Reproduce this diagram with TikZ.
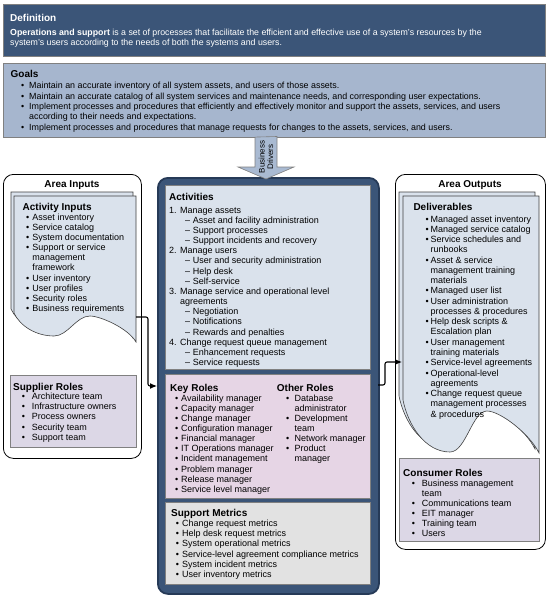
\documentclass[tikz,border=0pt]{standalone}
\usepackage{fontspec}
\setmainfont{Liberation Sans}
\usetikzlibrary{arrows.meta}
\definecolor{defblue}{HTML}{3B5578}
\definecolor{navyedge}{HTML}{263A57}
\definecolor{goalblue}{HTML}{A6B6CE}
\definecolor{arrowblue}{HTML}{A9BAD2}
\definecolor{docblue}{HTML}{DAE2EC}
\definecolor{rolelav}{HTML}{DCD7E6}
\definecolor{keypink}{HTML}{E6D5E5}
\definecolor{metgray}{HTML}{E2E2E2}
\definecolor{boxedge}{HTML}{808080}
\newcommand{\itemdot}{\textbullet}

\begin{document}
\begin{tikzpicture}[x=1pt,y=-1pt]
                \tikzstyle{every node}+=[inner sep=0pt]
                \tikzstyle{panel}=[draw=boxedge, line width=0.6pt, anchor=north west]
                \tikzstyle{area}=[draw=black, line width=0.8pt, rounded corners=10pt, fill=white, anchor=north west]
                \tikzstyle{body}=[anchor=base west, font=\fontsize{9}{10.2}\selectfont]
                \tikzstyle{head}=[anchor=base west, font=\fontsize{10}{12}\selectfont\bfseries]
                \tikzstyle{sheet}=[draw=black!75, line width=0.6pt, fill=docblue]
                \tikzstyle{conn}=[draw=black, line width=1.1pt, rounded corners=2pt, -{Latex[length=7pt,width=6pt]}]
                \useasboundingbox (0,0) rectangle (548,599);
                % definition and goals
                \node (defbox) [panel, fill=defblue, minimum width=542pt, minimum height=52pt] at (3,4) {};
                \node (deftitle) [head, text=white] at (10,22) {Definition};
                \node (deftext) [body, text=white, font=\fontsize{8.8}{10.5}\selectfont] at (10,35.5) {\begin{tabular}[t]{@{}l@{}}
                  \textbf{Operations and support} is a set of processes that facilitate the efficient and effective use of a system's resources by the\\
                  system's users according to the needs of both the systems and users.\end{tabular}};
                \node (goalbox) [panel, fill=goalblue, minimum width=542pt, minimum height=73pt] at (3,63.5) {};
                \node (goaltitle) [head] at (10.5,78) {Goals};
                \node (goallist) [body, font=\fontsize{8.9}{10.4}\selectfont] at (21,88.8) {\begin{tabular}[t]{@{}p{8pt}@{}l@{}}
                  \itemdot & Maintain an accurate inventory of all system assets, and users of those assets.\\
                  \itemdot & Maintain an accurate catalog of all system services and maintenance needs, and corresponding user expectations.\\
                  \itemdot & Implement processes and procedures that efficiently and effectively monitor and support the assets, services, and users\\
                           & according to their needs and expectations.\\
                  \itemdot & Implement processes and procedures that manage requests for changes to the assets, services, and users.\end{tabular}};
                % area inputs
                \node (inarea) [area, minimum width=138pt, minimum height=284pt] at (3,174) {};
                \node (intitle) [head, anchor=base] at (72,187.5) {Area Inputs};
                \foreach \sx/\sy in {-3/-4, 0/0}
                  \draw [sheet, shift={(\sx,\sy)}] (14,196) -- (136,196) -- (136,342)
                    .. controls (128,328) and (100,316) .. (90,316)
                    .. controls (76,316) and (68,336) .. (54,336)
                    .. controls (36,336) and (20,326) .. (14,313) -- cycle;
                \node (actintitle) [head] at (22.5,210.5) {Activity Inputs};
                \node (actinlist) [body, font=\fontsize{9}{10.17}\selectfont] at (26,220) {\begin{tabular}[t]{@{}p{6.3pt}@{}l@{}}
                  \itemdot & Asset inventory\\
                  \itemdot & Service catalog\\
                  \itemdot & System documentation\\
                  \itemdot & Support or service\\
                           & management\\
                           & framework\\
                  \itemdot & User inventory\\
                  \itemdot & User profiles\\
                  \itemdot & Security roles\\
                  \itemdot & Business requirements\end{tabular}};
                \node (suppbox) [panel, fill=rolelav, minimum width=126pt, minimum height=72pt] at (10,375) {};
                \node (supptitle) [head] at (13,390) {Supplier Roles};
                \node (supplist) [body, font=\fontsize{9}{10.3}\selectfont] at (21.7,399.2) {\begin{tabular}[t]{@{}p{10pt}@{}l@{}}
                  \itemdot & Architecture team\\
                  \itemdot & Infrastructure owners\\
                  \itemdot & Process owners\\
                  \itemdot & Security team\\
                  \itemdot & Support team\end{tabular}};
                % activities
                \node (actcont) [draw=navyedge, fill=defblue, line width=1.8pt, rounded corners=10pt, minimum width=221pt, minimum height=416pt, anchor=north west] at (157,177) {};
                \draw [fill=arrowblue, draw=boxedge, line width=0.6pt] (goalbox.south -| 255,0) -- (277,136.5) -- (277,167) -- (294,167) -- (266,179) -- (238,167) -- (255,167) -- cycle;
                \node (drivers) [rotate=90, align=center, font=\fontsize{8}{8.6}\selectfont] at (266,157) {Business\\Drivers};
                \node (actbox) [panel, fill=docblue, minimum width=205pt, minimum height=184pt] at (165,185) {};
                \node (acttitle) [head] at (169,200.5) {Activities};
                \node (actlist) [body, font=\fontsize{9}{10.17}\selectfont] at (169,213) {\begin{tabular}[t]{@{}p{11pt}@{}p{12.7pt}@{}l@{}}
                  1. & \multicolumn{2}{@{}l@{}}{Manage assets}\\
                     & \hspace{5pt}-- & Asset and facility administration\\
                     & \hspace{5pt}-- & Support processes\\
                     & \hspace{5pt}-- & Support incidents and recovery\\
                  2. & \multicolumn{2}{@{}l@{}}{Manage users}\\
                     & \hspace{5pt}-- & User and security administration\\
                     & \hspace{5pt}-- & Help desk\\
                     & \hspace{5pt}-- & Self-service\\
                  3. & \multicolumn{2}{@{}l@{}}{Manage service and operational level}\\
                     & \multicolumn{2}{@{}l@{}}{agreements}\\
                     & \hspace{5pt}-- & Negotiation\\
                     & \hspace{5pt}-- & Notifications\\
                     & \hspace{5pt}-- & Rewards and penalties\\
                  4. & \multicolumn{2}{@{}l@{}}{Change request queue management}\\
                     & \hspace{5pt}-- & Enhancement requests\\
                     & \hspace{5pt}-- & Service requests\end{tabular}};
                \node (keybox) [panel, fill=keypink, minimum width=205pt, minimum height=124pt] at (165,374) {};
                \node (keytitle) [head] at (170,391) {Key Roles};
                \node (keylist) [body, font=\fontsize{9}{10.15}\selectfont] at (175,401) {\begin{tabular}[t]{@{}p{6pt}@{}l@{}}
                  \itemdot & Availability manager\\
                  \itemdot & Capacity manager\\
                  \itemdot & Change manager\\
                  \itemdot & Configuration manager\\
                  \itemdot & Financial manager\\
                  \itemdot & IT Operations manager\\
                  \itemdot & Incident management\\
                  \itemdot & Problem manager\\
                  \itemdot & Release manager\\
                  \itemdot & Service level manager\end{tabular}};
                \node (othertitle) [head] at (276.7,391) {Other Roles};
                \node (otherlist) [body, font=\fontsize{9}{10.15}\selectfont] at (286,401) {\begin{tabular}[t]{@{}p{8.3pt}@{}l@{}}
                  \itemdot & Database\\
                           & administrator\\
                  \itemdot & Development\\
                           & team\\
                  \itemdot & Network manager\\
                  \itemdot & Product\\
                           & manager\end{tabular}};
                \node (metbox) [panel, fill=metgray, minimum width=205pt, minimum height=82pt] at (165,502) {};
                \node (mettitle) [head] at (171,516) {Support Metrics};
                \node (metlist) [body] at (175.7,526.5) {\begin{tabular}[t]{@{}p{6.3pt}@{}l@{}}
                  \itemdot & Change request metrics\\
                  \itemdot & Help desk request metrics\\
                  \itemdot & System operational metrics\\
                  \itemdot & Service-level agreement compliance metrics\\
                  \itemdot & System incident metrics\\
                  \itemdot & User inventory metrics\end{tabular}};
                % area outputs
                \node (outarea) [area, minimum width=150pt, minimum height=375pt] at (395,174) {};
                \node (outtitle) [head, anchor=base] at (470,187.5) {Area Outputs};
                \foreach \sx/\sy in {-4/-4, 0/0}
                  \draw [sheet, shift={(\sx,\sy)}] (403,196) -- (539,196) -- (539,453)
                    .. controls (530,434) and (500,411) .. (487,411)
                    .. controls (472,411) and (466,452) .. (450,452)
                    .. controls (425,452) and (408,425) .. (403,400) -- cycle;
                \node (deltitle) [head] at (413.3,210.5) {Deliverables};
                \node (dellist) [body, font=\fontsize{9}{10.27}\selectfont] at (425.5,222) {\begin{tabular}[t]{@{}p{4.8pt}@{}l@{}}
                  \itemdot & Managed asset inventory\\
                  \itemdot & Managed service catalog\\
                  \itemdot & Service schedules and\\
                           & runbooks\\
                  \itemdot & Asset \& service\\
                           & management training\\
                           & materials\\
                  \itemdot & Managed user list\\
                  \itemdot & User administration\\
                           & processes \& procedures\\
                  \itemdot & Help desk scripts \&\\
                           & Escalation plan\\
                  \itemdot & User management\\
                           & training materials\\
                  \itemdot & Service-level agreements\\
                  \itemdot & Operational-level\\
                           & agreements\\
                  \itemdot & Change request queue\\
                           & management processes\\
                           & \& procedures\end{tabular}};
                \node (consbox) [panel, fill=rolelav, minimum width=140pt, minimum height=83pt] at (399,458) {};
                \node (constitle) [head] at (403,476.5) {Consumer Roles};
                \node (conslist) [body, font=\fontsize{9}{10.1}\selectfont] at (411.7,486.2) {\begin{tabular}[t]{@{}p{10pt}@{}l@{}}
                  \itemdot & Business management\\
                           & team\\
                  \itemdot & Communications team\\
                  \itemdot & EIT manager\\
                  \itemdot & Training team\\
                  \itemdot & Users\end{tabular}};
                % connectors
                \coordinate (inport) at (136,317);
                \coordinate (keyport) at (157,386);
                \coordinate (actport) at (378,385);
                \coordinate (delport) at (402,362);
                \draw [conn] (inport) -- ++(12,0) |- (keyport);
                \draw [conn] (actport) -- ++(7,0) |- (delport);
\end{tikzpicture}
\end{document}
